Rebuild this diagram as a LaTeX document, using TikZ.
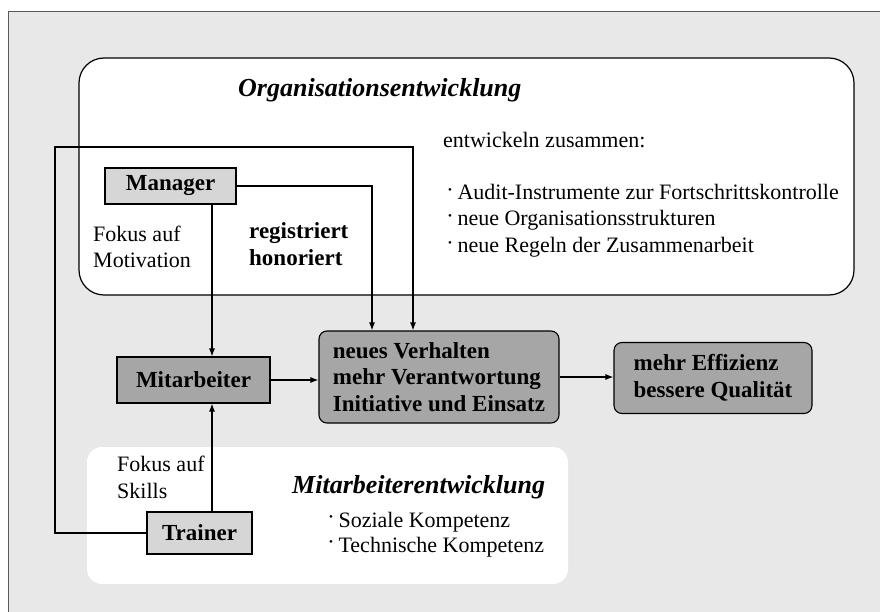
\documentclass[tikz,border=0pt]{standalone}
\usepackage{fontspec}
\usepackage{graphicx}
\setmainfont{Liberation Serif}
\usetikzlibrary{arrows.meta}
\definecolor{grund}{HTML}{E8E8E8}
\definecolor{rahmen}{HTML}{5A5A5A}
\definecolor{hellgrau}{HTML}{D6D6D6}
\definecolor{dunkelgrau}{HTML}{A6A6A6}
\newcommand{\punkt}{\raisebox{0.6ex}{\scalebox{0.5}{\textbullet}}\hspace{0.25em}}

\begin{document}
\begin{tikzpicture}[x=1pt,y=-1pt,
        >={Latex[length=8pt,width=6pt]},
        every node/.style={font=\fontsize{22}{26.5}\selectfont},
        hellbox/.style={draw,line width=1.1pt,fill=hellgrau,inner sep=0pt,
            font=\fontsize{23}{26.5}\selectfont\bfseries},
        dunkelbox/.style={hellbox,fill=dunkelgrau},
        ergebnis/.style={dunkelbox,rounded corners=8pt,align=left},
        schrift/.style={inner sep=0pt,align=left},
        titel/.style={inner sep=0pt,font=\fontsize{26}{30}\selectfont\bfseries\itshape},
        linie/.style={line width=1.1pt}]
        \useasboundingbox (0,0) rectangle (880,612);
        \fill[white] (0,0) rectangle (880,612);
        \fill[grund] (8,12) rectangle (890,620);
        \draw[rahmen,line width=1pt] (8,620) |- (890,12);

        % weisse Flaechen
        \draw[fill=white,line width=1.2pt,rounded corners=25pt] (79,58) rectangle (854,295);
        \fill[white,rounded corners=15pt] (87,447) rectangle (568,584);

        \node (manager) at (170.5,186) [hellbox,minimum width=131,minimum height=36] {Manager};
        \node (mitarbeiter) at (193.5,380) [dunkelbox,minimum width=153,minimum height=46] {Mitarbeiter};
        \node (trainer) at (199.5,533) [hellbox,minimum width=105,minimum height=42] {Trainer};
        \node (verhalten) at (439,377) [ergebnis,minimum width=240,minimum height=92]
            {neues Verhalten\\mehr Verantwortung\\Initiative und Einsatz};
        \node (effizienz) at (713,378) [ergebnis,minimum width=198,minimum height=71]
            {mehr Effizienz\\bessere Qualität};

        \node (orgtitel) at (238,97) [titel,anchor=base west] {Organisationsentwicklung};
        \node (zusammen) at (443,148) [schrift,anchor=base west] {entwickeln zusammen:};
        \node (audit) at (448,199.5) [schrift,anchor=base west] {\punkt Audit-Instrumente zur Fortschrittskontrolle};
        \node (strukturen) at (448,226) [schrift,anchor=base west] {\punkt neue Organisationsstrukturen};
        \node (regeln) at (448,252.5) [schrift,anchor=base west] {\punkt neue Regeln der Zusammenarbeit};
        \node (motivation) at (93,247) [schrift,anchor=west] {Fokus auf\\Motivation};
        \node (honoriert) at (249,244) [schrift,anchor=west,font=\fontsize{23}{27}\selectfont\bfseries] {registriert\\honoriert};

        \node (skills) at (117,477.5) [schrift,anchor=west] {Fokus auf\\Skills};
        \node (matitel) at (292,493) [titel,anchor=base west] {Mitarbeiterentwicklung};
        \node (sozial) at (329,527) [schrift,anchor=base west] {\punkt Soziale Kompetenz};
        \node (technisch) at (329,552) [schrift,anchor=base west] {\punkt Technische Kompetenz};

        \coordinate (achse) at (212,0);
        \coordinate (links) at (55,147);
        \coordinate (mitte) at (372,0);
        \coordinate (oben) at (413,0);

        \draw[linie,->] (manager.south -| achse) -- (mitarbeiter.north -| achse);
        \draw[linie,->] (trainer.north -| achse) -- (mitarbeiter.south -| achse);
        \draw[linie,->] (manager.east) -| (verhalten.north -| mitte);
        \draw[linie,->] (trainer.west) -| (links) -| (verhalten.north -| oben);
        \draw[linie,->] (mitarbeiter.east) -- (mitarbeiter.east -| verhalten.west);
        \draw[linie,->] (verhalten.east) -- (verhalten.east -| effizienz.west);
    \end{tikzpicture}
\end{document}
